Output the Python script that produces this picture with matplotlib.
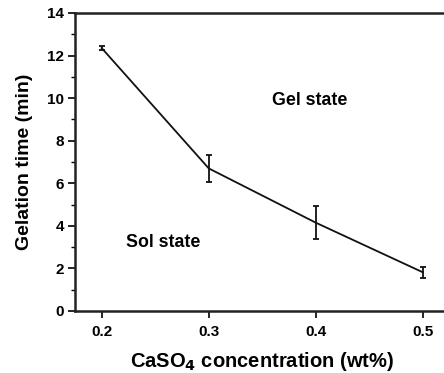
import matplotlib
matplotlib.use("Agg")
import matplotlib.pyplot as plt
from matplotlib.ticker import MultipleLocator

conc = [0.2, 0.3, 0.4, 0.5]
gel_time = [12.35, 6.7, 4.15, 1.82]
err = [0.08, 0.65, 0.77, 0.26]
xticks = [0.2, 0.3, 0.4, 0.5]
yticks = [0, 2, 4, 6, 8, 10, 12, 14]

plt.rcParams['font.family'] = ['Liberation Sans', 'DejaVu Sans']
fig = plt.figure(figsize=(4.44, 3.73), dpi=100)
ax = fig.add_axes([75/444, 1-311/373, 374.5/444, 298/373])
ax.errorbar(conc, gel_time, yerr=err, color='#111111', lw=1.3, capsize=2.5,
            elinewidth=1.3, capthick=1.3)
ax.set_xlim(0.175, 0.525)
ax.set_ylim(0, 14)
ax.set_xticks(xticks)
ax.set_xticklabels([f"{t:.1f}" for t in xticks])
ax.set_yticks(yticks)
ax.yaxis.set_minor_locator(MultipleLocator(1))
for s in ax.spines.values():
    s.set_linewidth(1.8)
    s.set_color('#222222')
ax.tick_params(axis='both', which='major', direction='out', length=5, width=1.2,
               labelsize=11, pad=3)
ax.tick_params(axis='x', which='major', pad=5)
ax.tick_params(axis='y', which='minor', direction='out', length=3, width=1.0)
for lab in ax.get_xticklabels() + ax.get_yticklabels():
    lab.set_fontweight('bold')
ax.set_xlabel(r"CaSO$_\mathbf{4}$ concentration (wt%)", fontsize=14.5,
              fontweight='bold', labelpad=8)
ax.set_ylabel("Gelation time (min)", fontsize=14, fontweight='bold', labelpad=10)
ax.text(0.394, 9.9, "Gel state", fontsize=12.8, fontweight='bold', ha='center', va='center')
ax.text(0.257, 3.2, "Sol state", fontsize=12.8, fontweight='bold', ha='center', va='center')
fig.savefig("out.png", dpi=100)
